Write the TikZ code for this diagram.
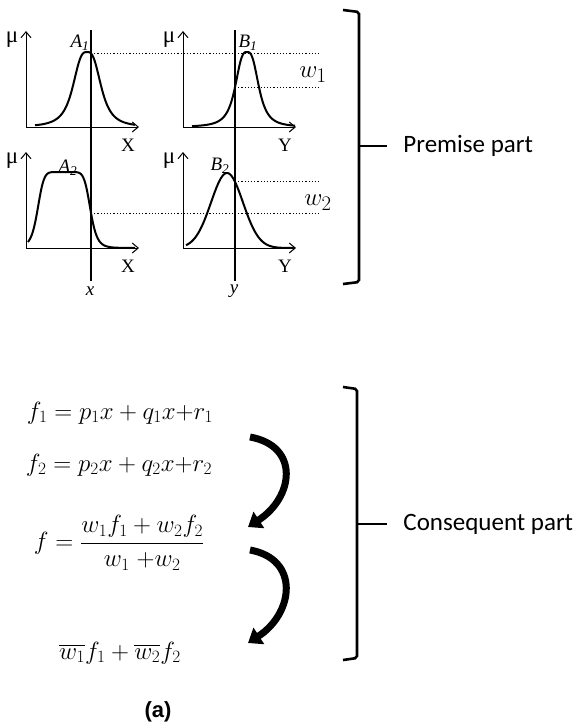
\documentclass[tikz,border=0pt]{standalone}
\usepackage{amsmath}
\usepackage{fontspec}
\setmainfont{Liberation Serif}
\newfontfamily\carlito{Carlito}
\newfontfamily\arialsans{Liberation Sans}
\usetikzlibrary{arrows.meta}

\tikzset{
  axis/.style={line width=1pt,-{Straight Barb[length=6pt,width=10pt]}},
  mf/.style={line width=2pt,smooth,samples=90},
  level/.style={line width=1pt,dash pattern=on 1.2pt off 2pt},
  cut/.style={line width=1.6pt},
  brace/.style={line width=2.6pt,rounded corners=2pt},
  tick/.style={line width=2pt},
  turn/.style={line width=7pt,-{Triangle[length=13pt,width=19pt]}},
  lab/.style={font=\fontsize{19}{19}\selectfont,inner sep=1pt},
  mulab/.style={font=\fontsize{23}{23}\selectfont,inner sep=1pt},
  wl/.style={font=\fontsize{28}{30}\selectfont,inner sep=0pt},
  eq/.style={font=\fontsize{25}{29}\selectfont,inner sep=0pt},
  part/.style={font=\carlito\fontsize{25}{30}\selectfont,anchor=west,inner sep=0pt,inner xsep=16pt}
}

\begin{document}
\begin{tikzpicture}[x=1pt,y=-1pt,line width=0.9pt]
  \useasboundingbox (0,0) rectangle (576,726);
  % premise part: axes of the four membership functions
  \foreach \ox/\oy/\ax [count=\i] in {26/127/X,183/127/Y,26/248/X,183/248/Y}{
    \draw[axis] (\ox,\oy) -- ++(0,-96);
    \draw[axis] (\ox,\oy) -- ++(113,0);
    \node[mulab] (mu\i) at (\ox-14,\oy-87) {μ};
    \node[lab] (ax\i) at (\ox+102,\oy+18) {\ax};}
  % membership curves
  \draw[mf,domain=35:135] plot (\x,{127-75/(1+(abs((\x-87)/15))^3)});
  \draw[mf,domain=192:295] plot (\x,{127-75/(1+(abs((\x-247)/12.5))^3)});
  \draw[mf,domain=28:135] plot (\x,{248-76/(1+(((\x-64)/26.5)^2)^4)});
  \draw[mf,domain=186:295] plot (\x,{248-75*exp(-((\x-227)/16)^2/2)});
  \node[lab] (A1) at (80,43) {\itshape A\textsubscript{1}};
  \node[lab] (B1) at (248,43) {\itshape B\textsubscript{1}};
  \node[lab] (A2) at (68,168) {\itshape A\textsubscript{2}};
  \node[lab] (B2) at (220,166) {\itshape B\textsubscript{2}};
  % inputs x, y and firing levels
  \draw[cut] (91,30) -- (91,281);
  \draw[cut] (235,30) -- (235,281);
  \node[lab] (xin) at (90,291) {\itshape x};
  \node[lab] (yin) at (234,291) {\itshape y};
  \draw[level] (91,53) -- (320,53);
  \draw[level] (235,87) -- (320,87);
  \draw[level] (235,181) -- (320,181);
  \draw[level] (91,213) -- (320,213);
  \node[wl] (w1) at (313,75) {$w_1$};
  \node[wl] (w2) at (318,203) {$w_2$};
  \draw[brace] (343,10) -- (359,12) -- (359,282) -- (343,284);
  \coordinate (premtip) at (359,146);
  \node[part] (prem) at (387,146) {Premise part};
  \draw[tick] (premtip) -- (prem);
  % consequent part
  \node[eq] (f1) at (120,413) {$f_1 = p_1x + q_1x{+}r_1$};
  \node[eq] (f2) at (119,465) {$f_2 = p_2x + q_2x{+}r_2$};
  \node[eq] (f) at (119,543) {$f = \dfrac{w_1f_1 + w_2f_2}{w_1\;{+}w_2}$};
  \node[eq] (fbar) at (120,653) {$\overline{w_1}f_1 + \overline{w_2}f_2$};
  \coordinate (t1a) at (250,437); \coordinate (t1b) at (248,527);
  \coordinate (t2a) at (250,550); \coordinate (t2b) at (248,643);
  \draw[turn] (t1a) .. controls (300,446) and (294,497) .. (t1b);
  \draw[turn] (t2a) .. controls (300,559) and (294,613) .. (t2b);
  \draw[brace] (343,387) -- (357,389) -- (357,658) -- (343,660);
  \coordinate (conqtip) at (357,524);
  \node[part] (conq) at (387,524) {Consequent part};
  \draw[tick] (conqtip) -- (conq);
  \node[font=\arialsans\bfseries\fontsize{22}{26}\selectfont] (cap) at (158,712) {(a)};
\end{tikzpicture}
\end{document}
